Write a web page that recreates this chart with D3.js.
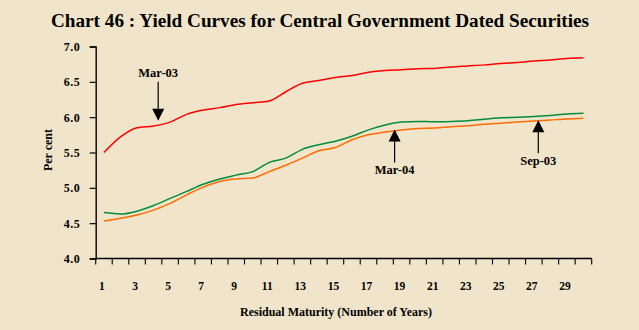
<!DOCTYPE html>
<html><head><meta charset="utf-8">
<script src="https://cdn.jsdelivr.net/npm/d3@7"></script>
<style>
html,body{margin:0;padding:0;background:#f0e5ca;}
svg{display:block;font-family:"Liberation Serif","Times New Roman",serif;}
</style></head>
<body><svg id="c" width="639" height="330"></svg>
<script>
const years = d3.range(1, 31);
const tickLabels = [1,3,5,7,9,11,13,15,17,19,21,23,25,27,29];
const yTicks = [4.0,4.5,5.0,5.5,6.0,6.5,7.0];
const mar03 = [5.50,5.72,5.85,5.875,5.93,6.04,6.10,6.135,6.18,6.205,6.23,6.36,6.48,6.52,6.56,6.59,6.635,6.66,6.67,6.685,6.69,6.71,6.725,6.74,6.76,6.775,6.795,6.81,6.83,6.84];
const mar04 = [4.65,4.63,4.67,4.75,4.85,4.95,5.05,5.125,5.18,5.23,5.36,5.42,5.545,5.61,5.66,5.73,5.82,5.89,5.93,5.94,5.935,5.94,5.95,5.97,5.99,6.00,6.01,6.025,6.045,6.055];
const sep03 = [4.53,4.57,4.615,4.685,4.78,4.90,5.01,5.09,5.125,5.14,5.23,5.32,5.42,5.525,5.57,5.68,5.75,5.79,5.82,5.84,5.845,5.865,5.88,5.90,5.915,5.93,5.945,5.96,5.975,5.985];
const series = [
  {name:"Mar-03", values:mar03, color:"#ff0000"},
  {name:"Sep-03", values:sep03, color:"#ff6a00"},
  {name:"Mar-04", values:mar04, color:"#008c3a"}
];
const annotations = [
  {label:"Mar-03", year:4.28, dir:"down", value:5.92},
  {label:"Mar-04", year:18.58, dir:"up", value:5.84},
  {label:"Sep-03", year:27.27, dir:"up", value:5.97}
];

const svg = d3.select("#c");
const L=95.7, R=591.7, T=46.5, B=258.5;
const x = d3.scaleBand().domain(years).range([L,R]).padding(0);
const xc = d => x(d) + x.bandwidth()/2;
const xl = d3.scaleLinear().domain([0.5,30.5]).range([L,R]);
const y = d3.scaleLinear().domain([4,7]).range([B,T]);

svg.append("text").attr("x",320).attr("y",27).attr("text-anchor","middle")
  .attr("font-size",19.2).attr("font-weight","bold").text("Chart 46 : Yield Curves for Central Government Dated Securities");

// Y axis
const ya = svg.append("g").attr("transform",`translate(${L},0)`)
  .call(d3.axisLeft(y).tickValues(yTicks).tickFormat(d3.format(".1f")).tickSize(6).tickPadding(9.5));
ya.select(".domain").attr("stroke","#000").attr("stroke-width",1.4);
ya.selectAll(".tick line").attr("stroke","#000").attr("stroke-width",1.2);
ya.selectAll(".tick text").attr("font-size",12).attr("font-weight","bold").attr("font-family","Liberation Serif").attr("letter-spacing","0.5").attr("fill","#000");

// X axis
const xa = svg.append("g").attr("transform",`translate(0,${B})`);
xa.append("line").attr("x1",L).attr("x2",R).attr("stroke","#000").attr("stroke-width",1.4);
xa.selectAll("line.t").data(years.map(d=>x(d)).concat([R])).join("line").attr("class","t")
  .attr("x1",d=>d).attr("x2",d=>d).attr("y1",0).attr("y2",6).attr("stroke","#000").attr("stroke-width",1.1);
xa.selectAll("text").data(tickLabels).join("text").attr("x",d=>xc(d)-2).attr("y",31)
  .attr("text-anchor","middle").attr("font-size",11.5).attr("font-weight","bold").text(d=>d);

svg.append("text").attr("x",336).attr("y",316).attr("text-anchor","middle")
  .attr("font-size",12).attr("font-weight","bold").text("Residual Maturity (Number of Years)");
svg.append("text").attr("transform","translate(52,150) rotate(-90)").attr("text-anchor","middle")
  .attr("font-size",12).attr("font-weight","bold").text("Per cent");

const line = d3.line().x((d,i)=>xc(years[i])).y(d=>y(d)).curve(d3.curveMonotoneX);
svg.selectAll("path.s").data(series).join("path").attr("class","s")
  .attr("d",d=>line(d.values)).attr("fill","none").attr("stroke",d=>d.color).attr("stroke-width",1.5);

// annotations
const ag = svg.append("g");
annotations.forEach(a=>{
  const ax = xl(a.year);
  if(a.dir==="down"){
    const tip = y(a.value)-2;
    ag.append("line").attr("x1",ax).attr("x2",ax).attr("y1",tip-39).attr("y2",tip-8).attr("stroke","#000").attr("stroke-width",1.2);
    ag.append("path").attr("d",`M${ax-6},${tip-12}L${ax+6},${tip-12}L${ax},${tip}Z`).attr("fill","#000");
    ag.append("text").attr("x",ax).attr("y",tip-44).attr("text-anchor","middle").attr("font-size",12.5).attr("font-weight","bold").text(a.label);
  } else {
    const tip = y(a.value)+1;
    ag.append("path").attr("d",`M${ax-6},${tip+12}L${ax+6},${tip+12}L${ax},${tip}Z`).attr("fill","#000");
    ag.append("line").attr("x1",ax).attr("x2",ax).attr("y1",tip+8).attr("y2",tip+33).attr("stroke","#000").attr("stroke-width",1.2);
    ag.append("text").attr("x",ax).attr("y",tip+45).attr("text-anchor","middle").attr("font-size",12.5).attr("font-weight","bold").text(a.label);
  }
});
</script></body></html>
